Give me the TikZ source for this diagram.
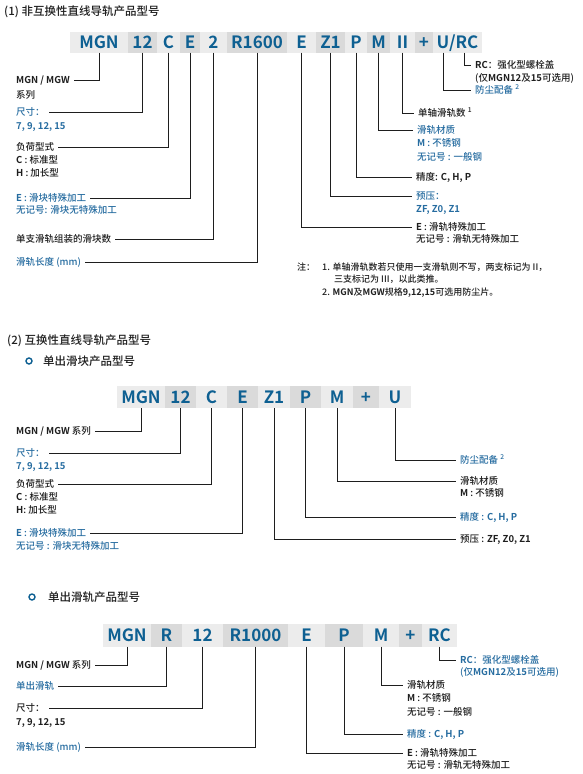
\documentclass[tikz,border=0pt]{standalone}
\usepackage{fontspec}
\setmainfont{Noto Sans CJK SC Medium}[BoldFont={Noto Sans CJK SC Bold}]
\usepackage{xcolor}

\definecolor{codeblue}{RGB}{14,96,146}
\definecolor{textblue}{RGB}{38,108,160}
\definecolor{inkgray}{RGB}{30,30,30}
\definecolor{seglight}{RGB}{236,236,236}
\definecolor{segdark}{RGB}{218,218,218}

\begin{document}
\begin{tikzpicture}[x=1pt, y=-1pt,
    seg/.style={inner sep=0pt, minimum height=21, text height=12.5pt, text depth=0pt,
        font=\fontsize{17}{17}\selectfont\bfseries, text=codeblue},
    lt/.style={seg, fill=seglight},
    dk/.style={seg, fill=segdark},
    lab/.style={anchor=west, inner xsep=4pt, inner ysep=0pt, text height=8pt, text depth=1.2pt,
        font=\fontsize{9.5}{10}\selectfont, text=inkgray},
    blab/.style={lab, text=textblue},
    note/.style={lab, inner xsep=0pt, font=\fontsize{9}{10}\selectfont},
    head/.style={anchor=west, inner sep=0pt, font=\fontsize{11.5}{12}\selectfont, text=inkgray},
    dot/.style={circle, draw=codeblue, line width=1.4pt, minimum size=6, inner sep=0pt},
    lead/.style={line width=1pt, inkgray}]

    \useasboundingbox (0,0) rectangle (583,774);

    % (1) Non-interchangeable type
    \node[head] (h-one) at (4,12) {(1) 非互换性直线导轨产品型号};

    % Code bar
    \node[lt, minimum width=58] (a-mgn)   at (99,42)    {MGN};
    \node[dk, minimum width=29] (a-size)  at (142.5,42) {12};
    \node[lt, minimum width=23] (a-load)  at (168.5,42) {C};
    \node[dk, minimum width=20] (a-blk)   at (190,42)   {E};
    \node[lt, minimum width=27] (a-num)   at (213.5,42) {2};
    \node[dk, minimum width=60] (a-len)   at (257,42)   {R1600};
    \node[lt, minimum width=29] (a-rail)  at (301.5,42) {E};
    \node[dk, minimum width=29] (a-pre)   at (330.5,42) {Z1};
    \node[lt, minimum width=22] (a-acc)   at (356,42)   {P};
    \node[dk, minimum width=23] (a-mat)   at (378.5,42) {M};
    \node[lt, minimum width=25] (a-axis)  at (402.5,42) {II};
    \node[dk, minimum width=18] (a-plus)  at (424,42)   {+};
    \node[lt, minimum width=49] (a-urc)   at (457.5,42) {U/RC};
    \coordinate (a-u)  at (443,52.5);
    \coordinate (a-rc) at (464,52.5);

    % Left labels
    \node[lab]  (a-series) at (12,80)  {\textbf{MGN / MGW}};
    \node[lab]  (a-series2) at (12,95) {系列};
    \node[blab] (a-sizel)  at (12,112) {尺寸：};
    \node[blab] (a-sizel2) at (12,126) {\textbf{7, 9, 12, 15}};
    \node[lab]  (a-loadl)  at (12,147) {负荷型式};
    \node[lab]  (a-loadl2) at (12,160) {\textbf{C} : 标准型};
    \node[lab]  (a-loadl3) at (12,173) {\textbf{H} : 加长型};
    \node[blab] (a-blkl)   at (12,198) {\textbf{E} : 滑块特殊加工};
    \node[blab] (a-blkl2)  at (12,210) {无记号: 滑块无特殊加工};
    \node[lab]  (a-numl)   at (12,239) {单支滑轨组装的滑块数};
    \node[blab] (a-lenl)   at (12,262) {滑轨长度 (mm)};

    % Right labels
    \node[lab]  (a-rcl)    at (471,65)  {\textbf{RC}：强化型螺栓盖};
    \node[lab]  (a-rcl2)   at (471,78)  {(仅\textbf{MGN12}及\textbf{15}可选用)};
    \node[blab] (a-dust)   at (471,90)  {防尘配备 \textsuperscript{2}};
    \node[lab]  (a-axisl)  at (414,113) {单轴滑轨数 \textsuperscript{1}};
    \node[blab] (a-matl)   at (413,130) {滑轨材质};
    \node[blab] (a-matl2)  at (413,143) {\textbf{M} : 不锈钢};
    \node[blab] (a-matl3)  at (413,157) {无记号 : 一般钢};
    \node[lab]  (a-accl)   at (412,177) {精度: \textbf{C, H, P}};
    \node[blab] (a-prel)   at (412,196) {预压：};
    \node[blab] (a-prel2)  at (412,209) {\textbf{ZF, Z0, Z1}};
    \node[lab]  (a-raill)  at (412,227) {\textbf{E} : 滑轨特殊加工};
    \node[lab]  (a-raill2) at (412,239) {无记号 : 滑轨无特殊加工};

    % Leaders
    \draw[lead] (a-mgn.south)  |- (a-series.east);
    \draw[lead] (a-size.south) |- (a-sizel.east);
    \draw[lead] (a-load.south) |- (a-loadl.east);
    \draw[lead] (a-blk.south)  |- (a-blkl.east);
    \draw[lead] (a-num.south)  |- (a-numl.east);
    \draw[lead] (a-len.south)  |- (a-lenl.east);
    \draw[lead] (a-rc)         |- (a-rcl.west);
    \draw[lead] (a-u)          |- (a-dust.west);
    \draw[lead] (a-axis.south) |- (a-axisl.west);
    \draw[lead] (a-mat.south)  |- (a-matl.west);
    \draw[lead] (a-acc.south)  |- (a-accl.west);
    \draw[lead] (a-pre.south)  |- (a-prel.west);
    \draw[lead] (a-rail.south) |- (a-raill.west);

    % Notes
    \node[note] (n-mark)  at (297,267) {注：};
    \node[note] (n-one)   at (322,267) {1. 单轴滑轨数若只使用一支滑轨则不写，两支标记为 II，};
    \node[note] (n-one2)  at (334,279) {三支标记为 III，以此类推。};
    \node[note] (n-two)   at (322,292) {2. \textbf{MGN}及\textbf{MGW}规格\textbf{9,12,15}可选用防尘片。};

    % (2) Interchangeable type
    \node[head] (h-two) at (7,341) {(2) 互换性直线导轨产品型号};
    \node[dot]  (b-dot) at (29,361) {};
    \node[head] (h-blk) at (43,361) {单出滑块产品型号};

    \node[lt, minimum width=48, minimum height=22] (b-mgn)  at (141,397)   {MGN};
    \node[dk, minimum width=31, minimum height=22] (b-size) at (180.5,397) {12};
    \node[lt, minimum width=31, minimum height=22] (b-load) at (211.5,397) {C};
    \node[dk, minimum width=31, minimum height=22] (b-blk)  at (242.5,397) {E};
    \node[lt, minimum width=32, minimum height=22] (b-pre)  at (274,397)   {Z1};
    \node[dk, minimum width=31, minimum height=22] (b-acc)  at (305.5,397) {P};
    \node[lt, minimum width=32, minimum height=22] (b-mat)  at (337,397)   {M};
    \node[dk, minimum width=26, minimum height=22] (b-plus) at (366,397)   {+};
    \node[lt, minimum width=32, minimum height=22] (b-dust) at (395,397)   {U};

    \node[lab]  (b-series) at (12,431) {\textbf{MGN / MGW} 系列};
    \node[blab] (b-sizel)  at (12,453) {尺寸：};
    \node[blab] (b-sizel2) at (12,466) {\textbf{7, 9, 12, 15}};
    \node[lab]  (b-loadl)  at (12,484) {负荷型式};
    \node[lab]  (b-loadl2) at (12,497) {\textbf{C} : 标准型};
    \node[lab]  (b-loadl3) at (12,510) {\textbf{H}: 加长型};
    \node[blab] (b-blkl)   at (12,533) {\textbf{E} : 滑块特殊加工};
    \node[blab] (b-blkl2)  at (12,546) {无记号 : 滑块无特殊加工};

    \node[blab] (b-dustl)  at (456,460) {防尘配备 \textsuperscript{2}};
    \node[lab]  (b-matl)   at (456,481) {滑轨材质};
    \node[lab]  (b-matl2)  at (456,493) {\textbf{M} : 不锈钢};
    \node[blab] (b-accl)   at (456,517) {精度 : \textbf{C, H, P}};
    \node[lab]  (b-prel)   at (456,539) {预压 : \textbf{ZF, Z0, Z1}};

    \draw[lead] (b-mgn.south)  |- (b-series.east);
    \draw[lead] (b-size.south) |- (b-sizel.east);
    \draw[lead] (b-load.south) |- (b-loadl.east);
    \draw[lead] (b-blk.south)  |- (b-blkl.east);
    \draw[lead] (b-dust.south) |- (b-dustl.west);
    \draw[lead] (b-mat.south)  |- (b-matl.west);
    \draw[lead] (b-acc.south)  |- (b-accl.west);
    \draw[lead] (b-pre.south)  |- (b-prel.west);

    % Single rail
    \node[dot]  (c-dot)  at (32,597) {};
    \node[head] (h-rail) at (48,597) {单出滑轨产品型号};

    \node[lt, minimum width=48, minimum height=23] (c-mgn)  at (127,635)   {MGN};
    \node[dk, minimum width=31, minimum height=23] (c-type) at (166.5,635) {R};
    \node[lt, minimum width=41, minimum height=23] (c-size) at (202.5,635) {12};
    \node[dk, minimum width=65, minimum height=23] (c-len)  at (255.5,635) {R1000};
    \node[lt, minimum width=37, minimum height=23] (c-rail) at (306.5,635) {E};
    \node[dk, minimum width=38, minimum height=23] (c-acc)  at (344,635)   {P};
    \node[lt, minimum width=36, minimum height=23] (c-mat)  at (381,635)   {M};
    \node[dk, minimum width=23, minimum height=23] (c-plus) at (410.5,635) {+};
    \node[lt, minimum width=35, minimum height=23] (c-rc)   at (439.5,635) {RC};

    \node[lab]  (c-series) at (12,665) {\textbf{MGN / MGW} 系列};
    \node[blab] (c-typel)  at (12,686) {单出滑轨};
    \node[lab]  (c-sizel)  at (12,708) {尺寸：};
    \node[lab]  (c-sizel2) at (12,722) {\textbf{7, 9, 12, 15}};
    \node[blab] (c-lenl)   at (12,747) {滑轨长度 (mm)};

    \node[blab] (c-rcl)    at (456,660) {\textbf{RC}：强化型螺栓盖};
    \node[blab] (c-rcl2)   at (456,672) {(仅\textbf{MGN12}及\textbf{15}可选用)};
    \node[lab]  (c-matl)   at (403,685) {滑轨材质};
    \node[lab]  (c-matl2)  at (403,698) {\textbf{M} : 不锈钢};
    \node[lab]  (c-matl3)  at (403,712) {无记号 : 一般钢};
    \node[blab] (c-accl)   at (403,734) {精度 : \textbf{C, H, P}};
    \node[lab]  (c-raill)  at (403,753) {\textbf{E} : 滑轨特殊加工};
    \node[lab]  (c-raill2) at (403,765) {无记号 : 滑轨无特殊加工};

    \draw[lead] (c-mgn.south)  |- (c-series.east);
    \draw[lead] (c-type.south) |- (c-typel.east);
    \draw[lead] (c-size.south) |- (c-sizel.east);
    \draw[lead] (c-len.south)  |- (c-lenl.east);
    \draw[lead] (c-rc.south)   |- (c-rcl.west);
    \draw[lead] (c-mat.south)  |- (c-matl.west);
    \draw[lead] (c-acc.south)  |- (c-accl.west);
    \draw[lead] (c-rail.south) |- (c-raill.west);
\end{tikzpicture}
\end{document}
